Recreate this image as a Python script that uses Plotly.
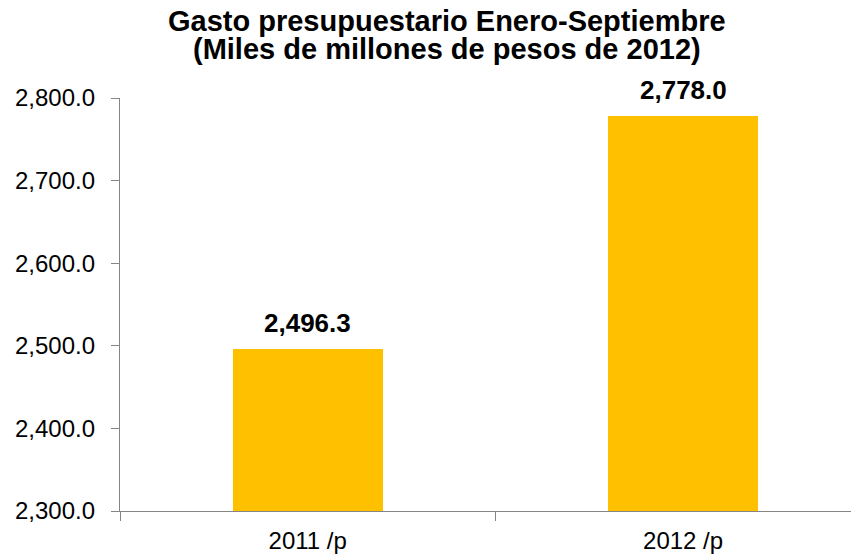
import plotly.graph_objects as go

categories = ["2011 /p", "2012 /p"]
values = [2496.3, 2778.0]
value_labels = ["2,496.3", "2,778.0"]
title_lines = ["Gasto presupuestario Enero-Septiembre", "(Miles de millones de pesos de 2012)"]

FONT = "Arial, Liberation Sans, sans-serif"
AXIS_COLOR = "#868686"

fig = go.Figure()
fig.add_trace(go.Bar(
    x=categories, y=values, width=0.40,
    marker=dict(color="#FFC000", line=dict(width=0)),
    hoverinfo="skip",
))

for c, v, t in zip(categories, values, value_labels):
    fig.add_annotation(x=c, y=v, text="<b>%s</b>" % t, showarrow=False,
                       yanchor="bottom", yshift=9,
                       font=dict(family=FONT, size=26, color="black"))

# title as two separate lines (tight line spacing)
for line, ypos in zip(title_lines, [1.1864, 1.1186]):
    fig.add_annotation(x=0.4425, y=ypos, xref="paper", yref="paper",
                       xanchor="center", yanchor="middle",
                       text="<b>%s</b>" % line, showarrow=False,
                       font=dict(family=FONT, size=29, color="black"))

fig.update_layout(
    width=851, height=548,
    margin=dict(l=112, r=0, t=90, b=45, autoexpand=False),
    paper_bgcolor="white", plot_bgcolor="white",
    showlegend=False,
    bargap=0,
)

fig.update_xaxes(
    type="category", range=[-0.5, 1.4687],
    showline=True, linecolor=AXIS_COLOR, linewidth=1.3,
    ticks="outside", ticklen=9, tickcolor=AXIS_COLOR, tickwidth=1.3,
    tickson="boundaries", showgrid=False, zeroline=False,
    tickfont=dict(family=FONT, size=24, color="black"),
    ticklabelstandoff=8,
)
fig.update_yaxes(
    range=[2300, 2800], dtick=100, tick0=2300, tickformat=",.1f",
    showline=True, linecolor=AXIS_COLOR, linewidth=1.3,
    ticks="outside", ticklen=8, tickcolor=AXIS_COLOR, tickwidth=1.3,
    showgrid=False, zeroline=False,
    tickfont=dict(family=FONT, size=24, color="black"),
    ticklabelstandoff=11,
)

fig.write_html("out.html")
